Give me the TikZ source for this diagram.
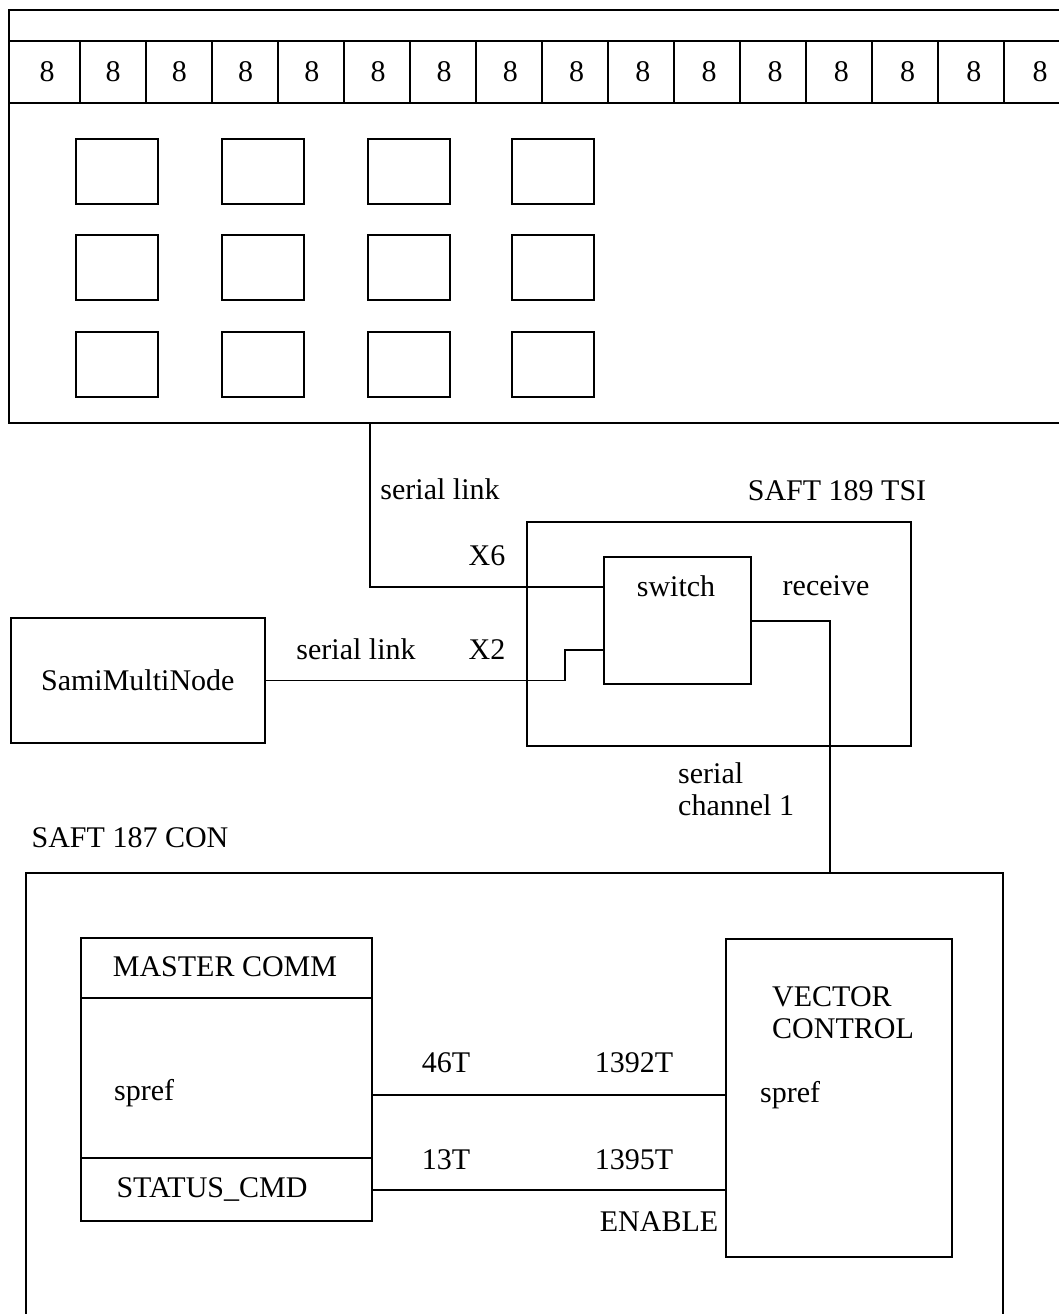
\documentclass[tikz,border=0pt]{standalone}
\usepackage{fontspec}
\setmainfont{Liberation Serif}
\begin{document}
\begin{tikzpicture}[x=1pt,y=-1pt,
  every node/.style={font=\fontsize{30}{32}\selectfont},
  box/.style={draw, line width=1.6pt, inner sep=0pt, anchor=north west},
  sq/.style={draw, line width=2pt, inner sep=0pt, anchor=north west, minimum width=82pt, minimum height=65pt},
  wire/.style={line width=1.4pt},
  thin/.style={line width=1.1pt},
  lbl/.style={inner sep=0pt}]
\useasboundingbox (0,0) rectangle (1059,1314);

% ---- top panel ----
\draw[line width=1.6pt] (1059,10) -- (9,10) -- (9,423) -- (1059,423);
\draw[line width=1.8pt] (9,41) -- (1059,41);
\draw[line width=1.8pt] (9,103) -- (1059,103);
\foreach \k in {0,...,14} {\draw[thin] ({80+66*\k},41) -- ({80+66*\k},103);}
\foreach \k in {1,...,16} {\node[lbl] (d\k) at ({47+66.2*(\k-1)},72) {8};}
\foreach \c/\x in {1/75,2/221,3/367,4/511} {
  \foreach \r/\y in {1/138,2/234,3/331} {
    \node[sq] (sq\r\c) at (\x,\y) {};
  }
}
\coordinate (tp) at (370,423);

% ---- TSI ----
\node[box, minimum width=384pt, minimum height=224pt] (tsi) at (526,521) {};
\node[box, minimum width=147pt, minimum height=127pt] (sw) at (603,556) {};
\node[lbl] (swl) at (676,586) {switch};
\node[lbl] (rcv) at (826,586) {receive};
\node[lbl] (tsil) at (837,491) {SAFT 189 TSI};
\node[lbl] (sl1) at (440,489) {serial link};
\node[lbl] (x6) at (487,556) {X6};
\node[lbl] (x2) at (487,650) {X2};

% ---- Sami ----
\node[box, minimum width=254pt, minimum height=125pt] (sami) at (10,617) {};
\node[lbl] (samil) at (sami.center) {SamiMultiNode};
\node[lbl] (sl2) at (356,649) {serial link};

% ---- CON ----
\draw[line width=1.6pt] (26,1314) -- (26,873) -- (1003,873) -- (1003,1314);
\coordinate (contop) at (830,873);
\node[lbl] (conl) at (130,838) {SAFT 187 CON};
\node[lbl, align=left, anchor=north west] (sc) at (678,762) {serial\\channel 1};

\node[box, minimum width=291pt, minimum height=283pt] (mc) at (80,937) {};
\draw[line width=1.6pt] (80,998) -- (371,998);
\draw[line width=1.6pt] (80,1158) -- (371,1158);
\node[lbl] (mcl) at (225,967) {MASTER COMM};
\node[lbl, anchor=west] (sp1) at (114,1093) {spref};
\node[lbl] (st) at (212,1189) {STATUS\_CMD};

\node[box, minimum width=226pt, minimum height=318pt] (vc) at (725,938) {};
\node[lbl, align=left, anchor=north west] (vcl) at (772,986) {VECTOR\\CONTROL};
\node[lbl, anchor=west] (sp2) at (760,1095) {spref};

\node[lbl] (t46) at (446,1063) {46T};
\node[lbl] (t1392) at (634,1063) {1392T};
\node[lbl] (t13) at (446,1160) {13T};
\node[lbl] (t1395) at (634,1160) {1395T};
\node[lbl] (en) at (659,1222) {ENABLE};

% ---- wires ----
\draw[thin] (tp) |- ([yshift=-31pt]sw.north west);
\draw[wire] (sami.east) -| (565,650) -- ([yshift=-94pt]sw.north west);
\draw[thin] ([yshift=-65pt]sw.north east) -| (contop);
\draw[wire] (mc.east |- 0,1095) -- (vc.west |- 0,1095);
\draw[wire] (mc.east |- 0,1190) -- (vc.west |- 0,1190);
\end{tikzpicture}
\end{document}
